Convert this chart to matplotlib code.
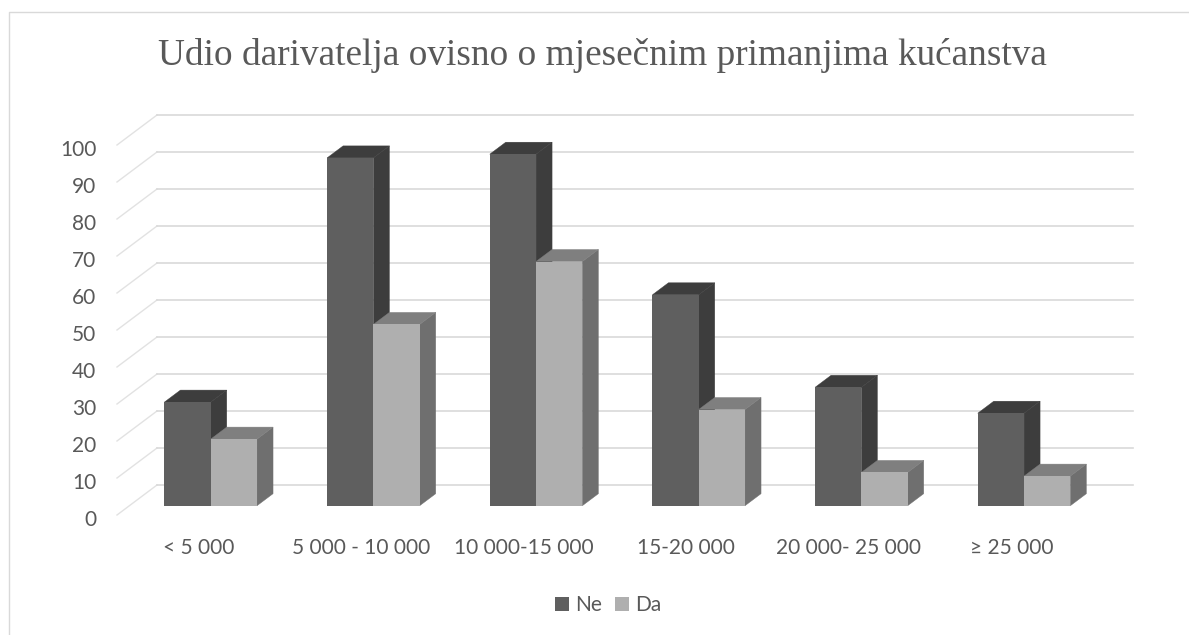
import matplotlib
matplotlib.use("Agg")
import matplotlib.pyplot as plt
from matplotlib.lines import Line2D
from matplotlib.transforms import ScaledTranslation

categories = ["< 5 000", "5 000 - 10 000", "10 000-15 000", "15-20 000", "20 000- 25 000", "≥ 25 000"]
ne_values = [28, 94, 95, 57, 32, 25]
da_values = [18, 49, 66, 26, 9, 8]
y_ticks = [0, 10, 20, 30, 40, 50, 60, 70, 80, 90, 100]
title = "Udio darivatelja ovisno o mjesečnim primanjima kućanstva"

W, H = 1189, 635
TEXT = "#595959"
GRID = "#d9d9d9"
plt.rcParams["font.family"] = ["Lato", "DejaVu Sans"]

fig = plt.figure(figsize=(W / 100, H / 100), dpi=100, facecolor="white")
L, R, T, B = 117, 1093, 145, 515
ax = fig.add_axes([L / W, 1 - B / H, (R - L) / W, (B - T) / H])
ax.set_xlim(-0.5, 5.5)
ax.set_ylim(0, 100)
for s in ax.spines.values():
    s.set_visible(False)
ax.patch.set_visible(False)

px_x = (R - L) / 6      # pixels per category
px_y = (B - T) / 100    # pixels per value unit
depth_x = 40 / px_x     # full floor depth in data units
depth_y = 30 / px_y


def off(d):
    return depth_x * d, depth_y * d


# gridlines on side and back wall
for v in y_ticks:
    dx, dy = off(1)
    ax.plot([-0.5, -0.5 + dx], [v, v + dy], color="#e2e2e2", lw=1.0,
            clip_on=False, zorder=1)
    ax.plot([-0.5 + dx, 5.5 + dx], [v + dy, v + dy], color=GRID, lw=1.2,
            clip_on=False, zorder=1)

bar_w = 46.3 / px_x
d0, d1 = 0.31, 0.71


def draw_series(xs, vals, front, top, side, label, z):
    x0, y0 = off(d0)
    x1, y1 = off(d1)
    for x, v in zip(xs, vals):
        xl = x + x0
        xr = xl + bar_w
        ddx, ddy = x1 - x0, y1 - y0
        ax.fill([xr, xr + ddx, xr + ddx, xr],
                [y0, y0 + ddy, v + y0 + ddy, v + y0], color=side, lw=0.3, clip_on=False, zorder=z)
        ax.fill([xl, xl + ddx, xr + ddx, xr],
                [v + y0, v + y0 + ddy, v + y0 + ddy, v + y0], color=top, lw=0.3, clip_on=False, zorder=z)
    return ax.bar([x + x0 for x in xs], vals, width=bar_w, bottom=y0, align="edge",
                  color=front, lw=0, clip_on=False, zorder=z + 0.5, label=label)


pos = list(range(len(categories)))
h1 = draw_series([p - bar_w for p in pos], ne_values, "#5f5f5f", "#3d3d3d", "#3d3d3d", "Ne", 3)
h2 = draw_series(pos, da_values, "#afafaf", "#7f7f7f", "#6f6f6f", "Da", 4)

ax.set_xticks(pos)
ax.set_xticklabels(categories)
ax.set_yticks(y_ticks)
ax.tick_params(axis="x", length=0, pad=16.5, labelsize=15, labelcolor=TEXT)
ax.tick_params(axis="y", length=0, pad=15, labelsize=15, labelcolor=TEXT)
shift = ScaledTranslation(0, -2 / 72, fig.dpi_scale_trans)
for lab in ax.get_yticklabels():
    lab.set_transform(lab.get_transform() + shift)

fig.text(602.5 / W, 1 - 65 / H, title, family="Liberation Serif", fontsize=26.8, color=TEXT,
         ha="center", va="baseline")

ax.legend(handles=[h1, h2], loc="center", bbox_to_anchor=(608 / W, 1 - 605 / H),
          bbox_transform=fig.transFigure, ncol=2, frameon=False, fontsize=15,
          labelcolor=TEXT, handlelength=0.67, handleheight=0.67, handletextpad=0.3,
          columnspacing=0.6, borderpad=0, borderaxespad=0)

# chart-area border: top and left only are visible
fig.add_artist(Line2D([8.5 / W, 8.5 / W, 1], [0, 1 - 11.5 / H, 1 - 11.5 / H], color=GRID, lw=1.0))

fig.savefig("out.png", dpi=100, facecolor="white")
